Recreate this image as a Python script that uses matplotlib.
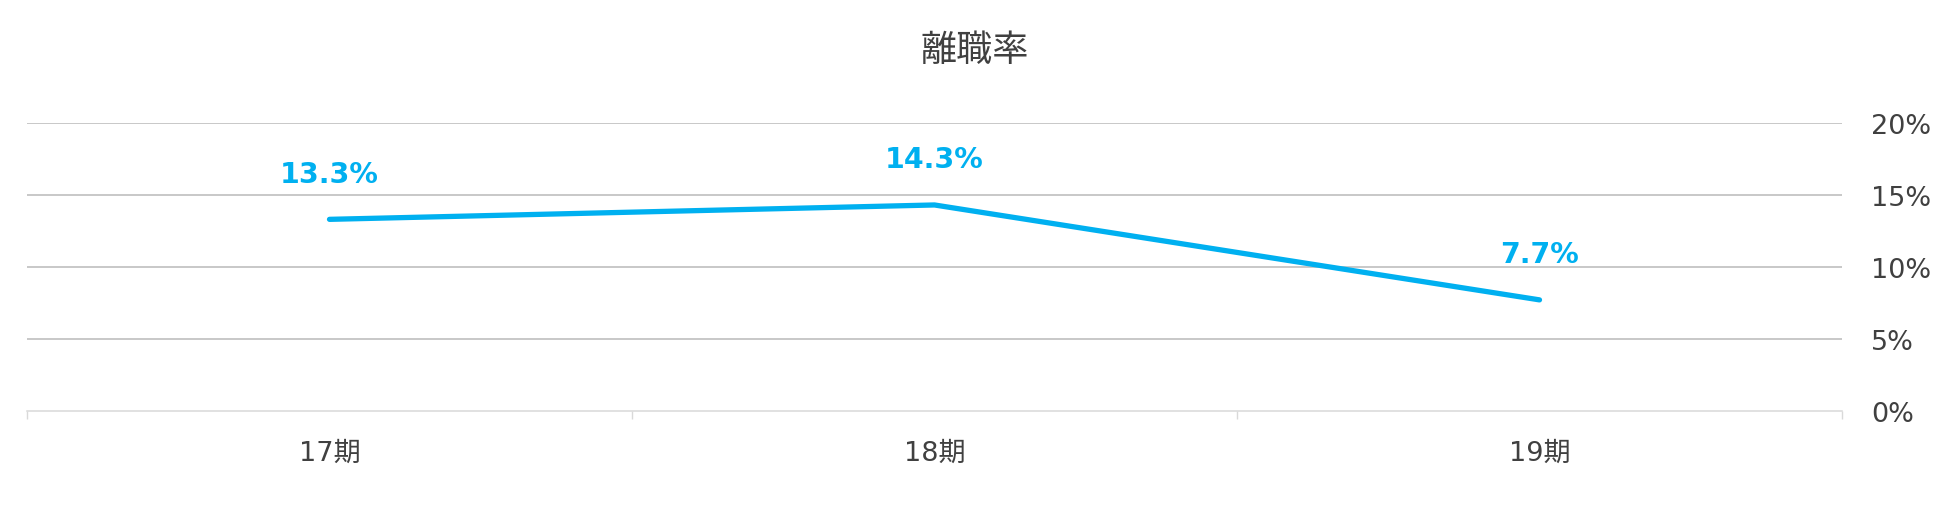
import matplotlib
matplotlib.use("Agg")
import matplotlib.pyplot as plt
from matplotlib.ticker import FixedLocator

plt.rcParams['font.family'] = ['DejaVu Sans', 'Noto Sans CJK JP']

title = "離職率"
categories = ["17期", "18期", "19期"]
values = [13.3, 14.3, 7.7]
y_ticks = [0, 5, 10, 15, 20]
y_tick_labels = ["0%", "5%", "10%", "15%", "20%"]

line_color = "#00B0F0"
text_color = "#404040"

fig = plt.figure(figsize=(19.5, 5.06), dpi=100)
ax = fig.add_axes([27/1950, 1 - 411.6/506, (1842 - 27)/1950, (411.6 - 124)/506])

x = list(range(len(categories)))
ax.plot(x, values, color=line_color, linewidth=3.8, solid_capstyle='round', zorder=3)

for xi, v in zip(x, values):
    ax.annotate(f"{v:.1f}%", (xi, v), xytext=(0, 33), textcoords='offset points',
                ha='center', va='center', fontsize=20.5, fontweight='bold', color=line_color)

ax.set_xlim(-0.5, len(categories) - 0.5)
ax.set_ylim(0, 20)

ax.set_yticks(y_ticks)
ax.set_yticklabels(y_tick_labels)
ax.yaxis.tick_right()
ax.tick_params(axis='y', length=0, pad=21, labelsize=19.5, labelcolor=text_color)
for yt in y_ticks[1:]:
    ax.axhline(yt, color="#BFBFBF", linewidth=1.2, zorder=1)

ax.set_xticks(x)
ax.set_xticklabels(categories)
ax.xaxis.set_minor_locator(FixedLocator([i - 0.5 for i in range(len(categories) + 1)]))
ax.tick_params(axis='x', which='major', length=0, pad=21, labelsize=19.5, labelcolor=text_color)
ax.tick_params(axis='x', which='minor', length=6, width=1, color="#D9D9D9")

for side in ['left', 'right', 'top']:
    ax.spines[side].set_visible(False)
ax.spines['bottom'].set_color("#D9D9D9")
ax.spines['bottom'].set_linewidth(1.1)

fig.text(975/1950, 1 - 51/506, title, ha='center', va='center', fontsize=26,
         color=text_color, family=['Noto Sans CJK JP', 'DejaVu Sans'])

fig.savefig("out.png", dpi=100, facecolor='white')
